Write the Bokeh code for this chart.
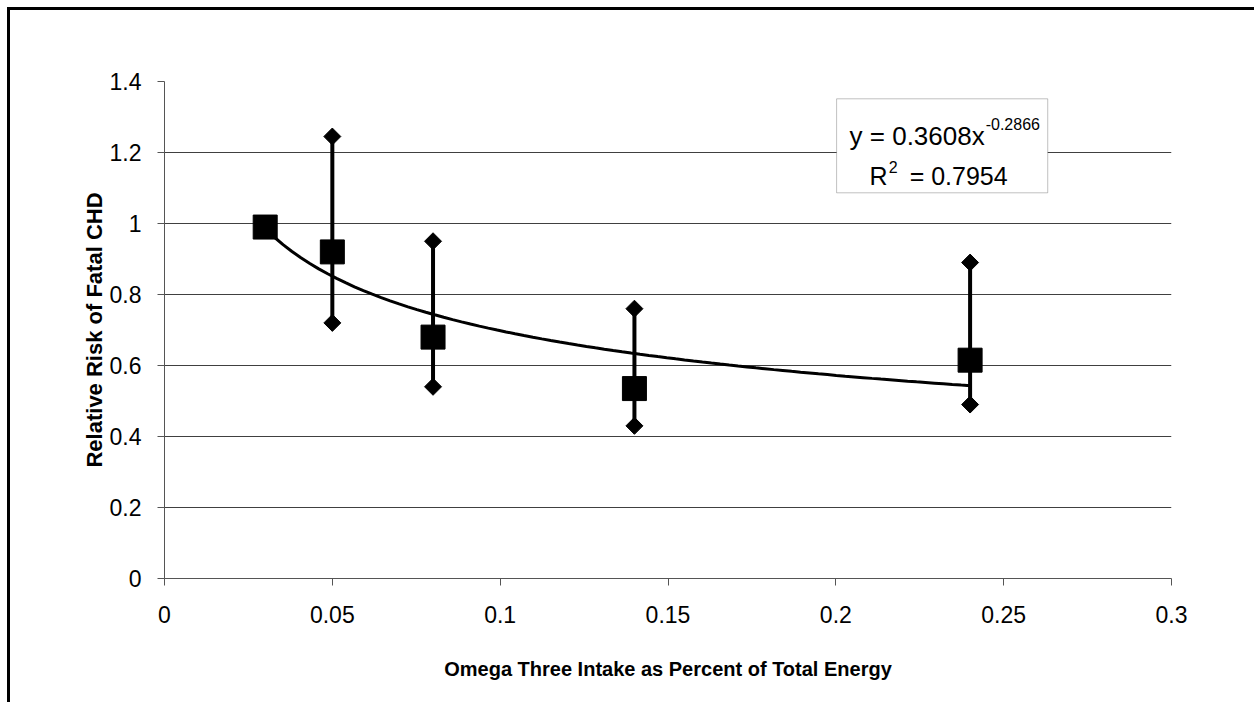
import numpy as np
from bokeh.plotting import figure
from bokeh.models import Range1d, FixedTicker, Label, BoxAnnotation, Title
from bokeh.embed import file_html
from bokeh.resources import INLINE

# ---- data ----
X_VALUES = [0.03, 0.05, 0.08, 0.14, 0.24]
RELATIVE_RISK = [0.99, 0.92, 0.68, 0.535, 0.615]
ERR_X = [0.05, 0.08, 0.14, 0.24]
ERR_LOW = [0.72, 0.54, 0.43, 0.49]
ERR_HIGH = [1.245, 0.95, 0.76, 0.89]
TREND_A = 0.3608
TREND_B = -0.2866
R_SQUARED = 0.7954
X_TICKS = [0, 0.05, 0.1, 0.15, 0.2, 0.25, 0.3]
X_TICK_LABELS = ["0", "0.05", "0.1", "0.15", "0.2", "0.25", "0.3"]
Y_TICKS = [0, 0.2, 0.4, 0.6, 0.8, 1, 1.2, 1.4]
Y_TICK_LABELS = ["0", "0.2", "0.4", "0.6", "0.8", "1", "1.2", "1.4"]
X_TITLE = "Omega Three Intake as Percent of Total Energy"
Y_TITLE = "Relative Risk of Fatal CHD"

FONT = "Liberation Sans"

p = figure(width=1247, height=695,
           x_range=Range1d(0, 0.3), y_range=Range1d(0, 1.4),
           output_backend="svg", toolbar_location=None,
           min_border_left=154, min_border_right=86,
           min_border_top=71, min_border_bottom=127)
p.styles = {"border-top": "3px solid black", "border-left": "3px solid black",
            "margin-top": "7px", "margin-left": "7px"}
p.outline_line_color = None
p.background_fill_color = "white"
p.border_fill_color = "white"

# axes
for ax, ticks, labels in ((p.xaxis, X_TICKS, X_TICK_LABELS), (p.yaxis, Y_TICKS, Y_TICK_LABELS)):
    ax.ticker = FixedTicker(ticks=ticks)
    ax.major_label_overrides = {t: l for t, l in zip(ticks, labels)}
    ax.major_label_text_font = FONT
    ax.major_label_text_font_size = "23px"
    ax.major_label_text_color = "black"
    ax.axis_line_color = "#555555"
    ax.major_tick_line_color = "#555555"
    ax.major_tick_out = 7
    ax.major_tick_in = 0
    ax.minor_tick_line_color = None
p.yaxis.major_label_standoff = 16
p.xaxis.major_label_standoff = 20

p.yaxis.axis_label = Y_TITLE
p.yaxis.axis_label_text_font = FONT
p.yaxis.axis_label_text_font_size = "22px"
p.yaxis.axis_label_text_font_style = "bold"
p.yaxis.axis_label_text_color = "black"
p.yaxis.axis_label_standoff = 0

# blank spacer label under the x tick labels, then the offset title
p.xaxis.axis_label = " "
p.xaxis.axis_label_text_font_size = "1px"
p.xaxis.axis_label_standoff = 21

p.add_layout(Title(text=X_TITLE, align="center", offset=-38, standoff=10,
                   text_font=FONT, text_font_size="20px", text_font_style="bold",
                   text_color="black"), "below")

p.xgrid.visible = False
p.ygrid.ticker = FixedTicker(ticks=Y_TICKS)
p.ygrid.grid_line_color = "#404040"
p.ygrid.grid_line_width = 1

# trend line from the chart's power equation
xs = np.linspace(X_VALUES[0], X_VALUES[-1], 80)
p.line(xs, TREND_A * xs ** TREND_B, line_color="black", line_width=3)

# error bars
p.segment(x0=ERR_X, y0=ERR_LOW, x1=ERR_X, y1=ERR_HIGH, line_color="black", line_width=4)
p.scatter(ERR_X, ERR_LOW, marker="square", angle=np.pi / 4, size=12, color="black")
p.scatter(ERR_X, ERR_HIGH, marker="square", angle=np.pi / 4, size=12, color="black")

# data points
p.scatter(X_VALUES, RELATIVE_RISK, marker="square", size=24, color="black")

# helpers for annotation placement (page pixels -> data)
def px_to_x(px):
    return (px - 164.3) / 1006.4 * 0.3

def py_to_y(py):
    return (577.7 - py) / 355.0

# equation box
p.add_layout(BoxAnnotation(left=px_to_x(836), right=px_to_x(1047),
                           top=py_to_y(98), bottom=py_to_y(192),
                           fill_color="white", fill_alpha=1.0,
                           line_color="#333333", line_width=1))

def add_text(x, y, text, size, align="left", baseline="alphabetic"):
    p.add_layout(Label(x=x, y=y, text=text, text_font=FONT,
                       text_font_size=size, text_align=align,
                       text_baseline=baseline, text_color="black"))

add_text(px_to_x(984), py_to_y(135), f"y = {TREND_A}x", "26px", align="right")
add_text(px_to_x(985), py_to_y(123), f"{TREND_B}", "16px")
add_text(px_to_x(887), py_to_y(175), "R", "25px", align="right")
add_text(px_to_x(888), py_to_y(166), "2", "16px")
add_text(px_to_x(909), py_to_y(175), f"= {R_SQUARED}", "25px")

open("out.html", "w").write(file_html(p, INLINE))
